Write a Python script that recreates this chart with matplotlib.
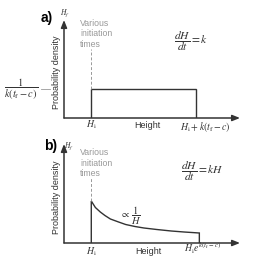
import matplotlib
matplotlib.use("Agg")
import matplotlib.pyplot as plt

plt.rcParams['mathtext.fontset'] = 'stix'
plt.rcParams['font.family'] = ['Liberation Sans', 'DejaVu Sans']

W, H = 255, 259

# ---- data (arbitrary units) ----
# panel a: uniform density between H_i and H_i + k(t_f - c)
a_heights = [1.0, 1.0, 4.85, 4.85]
a_density = [0.0, 29.0, 29.0, 0.0]
# panel b: density proportional to 1/H between H_i and H_i e^{k(t_f-c)}
b_heights = [1.0, 1.0, 1.08, 1.15, 1.25, 1.33, 1.5, 1.7, 2.0, 2.26, 2.6, 2.93, 3.4, 3.93, 4.4, 4.96, 4.96]
b_density = [0.0, 42.0, 38.5, 35.5, 33.0, 31.0, 27.5, 24.0, 21.0, 18.5, 16.5, 15.0, 13.5, 12.0, 11.0, 10.0, 0.0]
x_max = 6.45
a_ymax = 97.0
b_ymax = 99.0
H_i = 1.0

GRAY = '#999999'
DARK = '#333333'

fig = plt.figure(figsize=(W / 100, H / 100), dpi=100)
fig.patch.set_facecolor('white')


def fx(x):
    return x / W


def fy(y):
    return 1 - y / H


def make_axes(left, right, top, bottom, ymax):
    ax = fig.add_axes([fx(left), fy(bottom), fx(right) - fx(left), fy(top) - fy(bottom)])
    ax.set_xlim(0, x_max)
    ax.set_ylim(0, ymax)
    ax.axis('off')
    kw = dict(arrowstyle='-|>,head_length=0.45,head_width=0.18', color=DARK, lw=1.1,
              shrinkA=0, shrinkB=0)
    ax.annotate('', xy=(1.0, 0), xytext=(0, 0), xycoords='axes fraction',
                arrowprops=kw, annotation_clip=False)
    ax.annotate('', xy=(0, 1.0), xytext=(0, 0), xycoords='axes fraction',
                arrowprops=kw, annotation_clip=False)
    return ax


def t(x, y, s, **kw):
    fig.text(fx(x), fy(y), s, ha=kw.pop('ha', 'center'), va=kw.pop('va', 'center'), **kw)


# ---------- panel a ----------
axa = make_axes(64, 240, 20, 118, a_ymax)
axa.plot(a_heights, a_density, color=DARK, lw=1.0, solid_joinstyle='miter')
axa.plot([H_i, H_i], [29.0, 68.0], color=GRAY, lw=0.7, ls=(0, (3, 2)))

t(47, 18, 'a)', fontsize=10, fontweight='bold')
t(64.5, 13, '$H_f$', fontsize=5.5, color=DARK)
t(80, 34, 'Various\ninitiation\ntimes', fontsize=6.3, color=GRAY, ha='left',
  linespacing=1.15)
t(57, 72, 'Probability density', fontsize=6.5, rotation=90, color=DARK)
t(21, 89, r'$\dfrac{1}{k(t_\mathrm{f}-c)}$', fontsize=7.5, color=DARK)
fig.add_artist(plt.Line2D([fx(41), fx(50)], [fy(89), fy(89)], color=GRAY, lw=0.6))
t(191, 41, r'$\dfrac{dH}{dt}=k$', fontsize=8.3, color=DARK)
t(91, 125, '$H_\\mathrm{i}$', fontsize=7, color=DARK)
t(147, 126, 'Height', fontsize=6.5, color=DARK)
t(205, 127, r'$H_\mathrm{i}+k(t_\mathrm{f}-c)$', fontsize=7, color=DARK)

# ---------- panel b ----------
axb = make_axes(64, 240, 144, 243, b_ymax)
axb.plot(b_heights, b_density, color=DARK, lw=1.0, solid_joinstyle='miter')
axb.plot([H_i, H_i], [42.0, 66.0], color=GRAY, lw=0.7, ls=(0, (3, 2)))

t(51, 146, 'b)', fontsize=10, fontweight='bold')
t(69, 146, '$H_f$', fontsize=5.5, color=DARK)
t(80, 163, 'Various\ninitiation\ntimes', fontsize=6.3, color=GRAY, ha='left',
  linespacing=1.15)
t(57, 197, 'Probability density', fontsize=6.5, rotation=90, color=DARK)
t(131, 216, r'$\propto\,\dfrac{1}{H}$', fontsize=7.5, color=DARK)
t(202, 171, r'$\dfrac{dH}{dt}=kH$', fontsize=8.3, color=DARK)
t(91, 252, '$H_\\mathrm{i}$', fontsize=7, color=DARK)
t(148, 252, 'Height', fontsize=6.5, color=DARK)
t(203, 248, r'$H_\mathrm{i}e^{k(t_\mathrm{f}-c)}$', fontsize=7, color=DARK)

fig.savefig('out.png', dpi=100, facecolor='white')
